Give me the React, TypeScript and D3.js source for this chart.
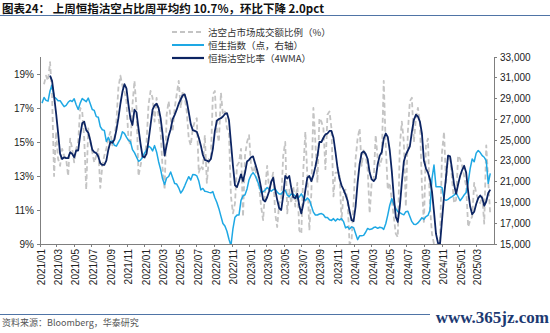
import React from "react";
import * as d3 from "d3";

// Weekly data, first week ending 2021-01-08
const WEEK_START = "2021-01-08";

// 沽空占市场成交额比例（%）
const SHORT_RATIO: (number | null)[] = [
  null, 18.4, 18.9, 18.6, 19.7, 17.8, 13.0, 15.6, 14.0, 13.6,
  14.6, 14.2, 14.0, 13.0, 15.2, 14.6, 13.8, 14.6, 15.0, 17.0,
  16.8, 15.2, 12.2, 15.8, 15.0, 14.4, 13.8, 14.2, 14.6, 12.3,
  13.6, 14.2, 14.6, 15.2, 15.6, 14.8, 15.2, 16.2, 18.2, 18.9,
  18.3, 18.0, 17.4, 15.2, 14.8, 17.2, 18.6, 17.0, 13.0, 13.6,
  14.2, 14.0, 15.0, 17.2, 18.0, 17.6, 16.2, 17.6, 16.4, 15.6,
  13.4, 12.2, 16.6, 17.4, 16.4, 15.6, 17.0, 17.8, 18.6, 17.0,
  18.0, 17.6, 16.8, 15.2, 14.8, 15.8, 16.2, 16.4, 13.2, 13.6,
  13.4, 15.4, 12.6, 14.0, 14.0, 17.8, 18.0, 15.6, 15.0, 17.9,
  16.6, 16.8, 15.8, 15.6, 11.8, 10.8, 11.4, 13.6, 13.8, 14.6,
  10.6, 14.2, 15.0, 15.4, 13.6, 13.2, 13.6, 12.6, 12.4, 11.2,
  10.4, 12.2, 13.6, 12.2, 12.6, 13.2, 10.8, 10.0, 11.4, 11.6,
  14.2, 15.0, 10.8, 12.2, 11.4, 12.4, 11.2, 12.6, 9.8, 9.6,
  13.4, 15.6, 13.0, 9.8, 12.0, 17.0, 15.0, 12.6, 16.4, 16.2,
  15.8, 13.4, 16.6, 16.8, 15.8, 11.8, 13.2, 13.2, 13.2, 10.4,
  12.0, 12.2, 11.6, 9.0, 9.2, 11.4, 14.0, 15.2, 15.8, 13.6,
  14.6, 14.2, 13.4, 10.8, 12.6, 12.8, 15.4, 14.0, 13.6, 14.0,
  18.6, 14.8, 12.2, 12.6, 11.6, 10.6, 9.6, 9.4, 14.8, 16.2,
  15.0, 11.2, 15.6, 17.4, 17.6, 15.0, 16.4, 17.0, 16.2, 12.4,
  10.2, 14.8, 15.2, 11.2, 9.6, 9.0, 8.8, 9.1, 9.2, 14.4,
  15.6, 12.6, 14.2, 14.2, 12.8, 11.4, 11.6, 14.2, 14.0, 13.6,
  13.0, 12.4, 10.0, 10.4, 10.6, 12.6, 12.0, 11.6, 11.4, 11.8,
  10.2, 14.8, 12.7, 10.7,
];

// 恒指沽空比率（4WMA）
const SHORT_4WMA: (number | null)[] = [
  null, null, null, null, 18.9, 18.6, 17.7, 16.7, 15.55, 14.3,
  14.0, 14.1, 14.05, 14.05, 14.4, 14.3, 14.1, 14.5, 14.5, 15.4,
  16.1, 16.2, 15.7, 15.55, 15.1, 14.55, 14.4, 14.35, 14.15, 13.75,
  13.65, 13.65, 13.9, 14.55, 15.0, 14.95, 15.15, 15.7, 16.4, 17.25,
  17.95, 18.4, 18.15, 17.2, 16.35, 16.0, 16.9, 16.75, 15.8, 14.9,
  14.15, 14.1, 14.3, 15.1, 16.0, 16.9, 17.15, 17.25, 17.0, 16.4,
  15.45, 14.2, 14.8, 15.35, 15.75, 16.35, 16.6, 16.9, 17.25, 17.5,
  17.75, 17.8, 17.4, 16.75, 16.05, 15.7, 15.65, 15.6, 15.25, 14.8,
  14.25, 13.95, 13.9, 13.85, 14.0, 14.6, 15.65, 16.25, 16.35, 16.4,
  16.5, 16.65, 16.7, 16.3, 14.95, 13.6, 12.45, 12.35, 12.7, 13.1,
  12.7, 13.2, 13.85, 13.95, 14.1, 14.15, 13.75, 13.35, 12.9, 12.3,
  11.6, 11.5, 11.75, 12.1, 12.65, 12.9, 12.2, 11.6, 11.1, 11.0,
  11.85, 13.0, 12.85, 13.0, 12.3, 11.75, 11.7, 11.95, 11.25, 10.8,
  11.35, 12.15, 12.9, 13.0, 12.7, 13.05, 13.55, 14.15, 15.0, 15.0,
  15.25, 15.45, 15.5, 15.65, 15.65, 15.25, 14.4, 13.5, 12.85, 12.45,
  12.2, 11.9, 11.55, 10.95, 10.4, 10.35, 11.2, 12.6, 13.7, 14.35,
  14.45, 14.3, 14.0, 13.2, 12.8, 12.7, 12.85, 13.7, 14.2, 14.4,
  15.2, 15.5, 15.3, 14.5, 13.3, 11.8, 10.6, 10.3, 11.2, 12.6,
  13.85, 14.25, 14.5, 14.75, 15.6, 16.3, 16.6, 16.5, 16.2, 15.5,
  13.9, 13.45, 13.2, 12.8, 12.1, 10.9, 9.6, 9.05, 9.0, 10.4,
  11.8, 12.95, 14.2, 14.15, 13.4, 12.5, 11.95, 12.5, 13.0, 13.35,
  13.6, 13.2, 12.1, 11.2, 10.75, 10.9, 11.35, 11.7, 11.85, 11.7,
  11.25, 11.5, 12.0, 12.2,
];

// 恒生指数（点，右轴）
const HSI: number[] = [
  28560, 29100, 28830, 28750, 29750, 30300, 29180, 29000, 28780, 28800,
  28500, 28220, 28350, 28640, 28820, 28720, 28980, 28400, 27950, 28560,
  29000, 28850, 28700, 29050, 28500, 27940, 27860, 27260, 27200, 26300,
  26000, 25940, 24870, 25270, 24790, 24930, 24500, 24420, 24780, 25130,
  25800, 25650, 25280, 24980, 24860, 24090, 23790, 23370, 22960, 23080,
  23370, 23740, 24050, 24430, 24290, 23960, 24470, 23860, 22920, 22180,
  21250, 20730, 21350, 21500, 21930, 21380, 20820, 20770, 20410, 19900,
  20170, 20600, 21060, 21480, 21160, 21690, 21670, 21560, 21060, 20210,
  20350, 20080, 20040, 19970, 19920, 20040, 19460, 18990, 18400, 17680,
  16980, 16730, 16230, 15460, 14850, 16490, 17580, 17780, 17800, 19200,
  19630, 19730, 20300, 21190, 21630, 21870, 21600, 21160, 20620, 19960,
  20030, 20200, 20430, 20270, 20080, 20230, 20300, 19990, 19810, 19820,
  20070, 20180, 19710, 19560, 19810, 19790, 19620, 19410, 19540, 19830,
  19500, 19170, 19430, 19230, 18670, 18070, 17790, 17790, 17890, 17930,
  17820, 17550, 17560, 17330, 17270, 17440, 17220, 17420, 17320, 17450,
  17160, 16550, 16660, 16450, 16650, 16580, 16010, 15420, 15790, 15790,
  15830, 16130, 16500, 16390, 16440, 16580, 16630, 16510, 16610, 16570,
  16410, 16950, 17780, 18730, 19370, 18820, 18430, 18110, 18030, 17900,
  17810, 18110, 18160, 17650, 17150, 16900, 16880, 17030, 17260, 17530,
  17370, 17630, 17750, 18250, 21300, 22600, 20520, 20520, 20520, 20420,
  19300, 19200, 19300, 19450, 19560, 19700, 19950, 19550, 19170, 19420,
  19720, 19950, 20900, 22250, 23180, 22920, 23750, 24000, 23800, 23500,
  23350, 23000, 20840, 21800,
];

const LEFT_TICKS = [9, 11, 13, 15, 17, 19];
const RIGHT_TICKS = [15000, 17000, 19000, 21000, 23000, 25000, 27000, 29000, 31000, 33000];
const X_TICK_LABELS = [
  "2021/01", "2021/03", "2021/05", "2021/07", "2021/09", "2021/11",
  "2022/01", "2022/03", "2022/05", "2022/07", "2022/09", "2022/11",
  "2023/01", "2023/03", "2023/05", "2023/07", "2023/09", "2023/11",
  "2024/01", "2024/03", "2024/05", "2024/07", "2024/09", "2024/11",
  "2025/01", "2025/03",
];
const LEGEND_LABELS = ["沽空占市场成交额比例（%）", "恒生指数（点，右轴）", "恒指沽空比率（4WMA）"];
const TITLE = "图表24：  上周恒指沽空占比周平均约 10.7%，环比下降 2.0pct";
const SOURCE = "资料来源：Bloomberg，华泰研究";
const WATERMARK = "www.365jz.com";

const C_GRAY = "#c4c4c4";
const C_LIGHT = "#1ea8e4";
const C_NAVY = "#0c2462";
const C_RULE = "#4f74a6";
const NUM_FONT = "'Liberation Sans', Arial, sans-serif";
const CJK_FONT = "'Noto Sans CJK SC', 'Noto Sans', sans-serif";

export default function App() {
  const W = 550;
  const H = 333;
  const L = 40, R = 494, T = 57, B = 244;

  const [sy, sm, sd] = WEEK_START.split("-").map(Number);
  const dates = HSI.map((_, i) => new Date(sy, sm - 1, sd + 7 * i));

  const x = d3.scaleTime().domain([new Date(2021, 0, 1), new Date(2025, 4, 1)]).range([L, R]);
  const yL = d3.scaleLinear().domain([9, 20]).range([B, T]);
  const yR = d3.scaleLinear().domain([15000, 33000]).range([B, T]);

  type P = [Date, number | null];
  const lineL = d3
    .line<P>()
    .defined((d) => d[1] != null)
    .x((d) => x(d[0]))
    .y((d) => yL(d[1] as number));
  const lineR = d3
    .line<P>()
    .x((d) => x(d[0]))
    .y((d) => yR(d[1] as number));

  const grayPath = lineL(dates.map((d, i) => [d, SHORT_RATIO[i]] as P)) || "";
  const navyPath = lineL(dates.map((d, i) => [d, SHORT_4WMA[i]] as P)) || "";
  const hsiPath = lineR(dates.map((d, i) => [d, HSI[i]] as P)) || "";

  const xTicks = X_TICK_LABELS.map((s) => {
    const [yy, mm] = s.split("/").map(Number);
    return { label: s, date: new Date(yy, mm - 1, 1) };
  });

  const legendX1 = 172, legendX2 = 204, legendTextX = 208;
  const legendY = [32, 45, 58];
  const legendStyles = [
    { stroke: C_GRAY, dash: "5,3", w: 2 },
    { stroke: C_LIGHT, dash: undefined, w: 2 },
    { stroke: C_NAVY, dash: undefined, w: 2.2 },
  ];

  return (
    <svg
      width={W}
      height={H}
      viewBox={`0 0 ${W} ${H}`}
      style={{ position: "fixed", left: 0, top: 0, background: "#fff" }}
    >
      <rect x={0} y={0} width={W} height={H} fill="#fff" />
      {/* Title */}
      <text x={2} y={13} fontFamily={CJK_FONT} fontWeight="bold" fontSize={11.5} fill="#111">
        {TITLE}
      </text>
      <line x1={0} x2={W} y1={15.5} y2={15.5} stroke={C_RULE} strokeWidth={1} />

      {/* Legend */}
      {LEGEND_LABELS.map((lab, i) => (
        <g key={lab}>
          <line
            x1={legendX1}
            x2={legendX2}
            y1={legendY[i]}
            y2={legendY[i]}
            stroke={legendStyles[i].stroke}
            strokeWidth={legendStyles[i].w}
            strokeDasharray={legendStyles[i].dash}
          />
          <text x={legendTextX} y={legendY[i] + 3.5} fontFamily={CJK_FONT} fontSize={9.5} fill="#333">
            {lab}
          </text>
        </g>
      ))}

      <defs>
        <clipPath id="plotClip">
          <rect x={L} y={T - 2} width={R - L} height={B - T + 2} />
        </clipPath>
      </defs>

      {/* Series */}
      <g clipPath="url(#plotClip)" fill="none" strokeLinejoin="round">
        <path d={grayPath} stroke={C_GRAY} strokeWidth={1.8} strokeDasharray="5,3" />
        <path d={hsiPath} stroke={C_LIGHT} strokeWidth={1.5} />
        <path d={navyPath} stroke={C_NAVY} strokeWidth={1.8} />
      </g>

      {/* Axes */}
      <g stroke="#7f7f7f" strokeWidth={1} shapeRendering="crispEdges">
        <line x1={L} x2={L} y1={T} y2={B} />
        <line x1={R} x2={R} y1={T} y2={B} />
        <line x1={L} x2={R} y1={B} y2={B} />
        {LEFT_TICKS.map((t) => (
          <line key={"lt" + t} x1={L - 3} x2={L} y1={yL(t)} y2={yL(t)} />
        ))}
        {RIGHT_TICKS.map((t) => (
          <line key={"rt" + t} x1={R} x2={R + 3} y1={yR(t)} y2={yR(t)} />
        ))}
        {xTicks.map((t) => (
          <line key={"xt" + t.label} x1={x(t.date)} x2={x(t.date)} y1={B} y2={B + 3} />
        ))}
      </g>

      {LEFT_TICKS.map((t) => (
        <text
          key={"ll" + t}
          x={34}
          y={yL(t)}
          dy="0.35em"
          textAnchor="end"
          fontFamily={NUM_FONT}
          fontSize={10}
          fill="#222"
        >
          {`${t}%`}
        </text>
      ))}
      {RIGHT_TICKS.map((t) => (
        <text
          key={"rl" + t}
          x={500}
          y={yR(t)}
          dy="0.35em"
          textAnchor="start"
          fontFamily={NUM_FONT}
          fontSize={10}
          fill="#222"
        >
          {d3.format(",")(t)}
        </text>
      ))}
      {xTicks.map((t) => (
        <text
          key={"xl" + t.label}
          transform={`translate(${x(t.date) + 1.5},${B + 5}) rotate(-90)`}
          dy="0.35em"
          textAnchor="end"
          fontFamily={NUM_FONT}
          fontSize={10}
          fill="#222"
        >
          {t.label}
        </text>
      ))}

      {/* Footer */}
      <line x1={0} x2={430} y1={314.5} y2={314.5} stroke={C_RULE} strokeWidth={1} />
      <text x={2} y={326} fontFamily={CJK_FONT} fontSize={9} fill="#555">
        {SOURCE}
      </text>
      <text
        x={549}
        y={323}
        textAnchor="end"
        fontFamily="'Liberation Serif', 'Times New Roman', serif"
        fontWeight="bold"
        fontSize={17}
        fill="#1d3a72"
      >
        {WATERMARK}
      </text>
    </svg>
  );
}
